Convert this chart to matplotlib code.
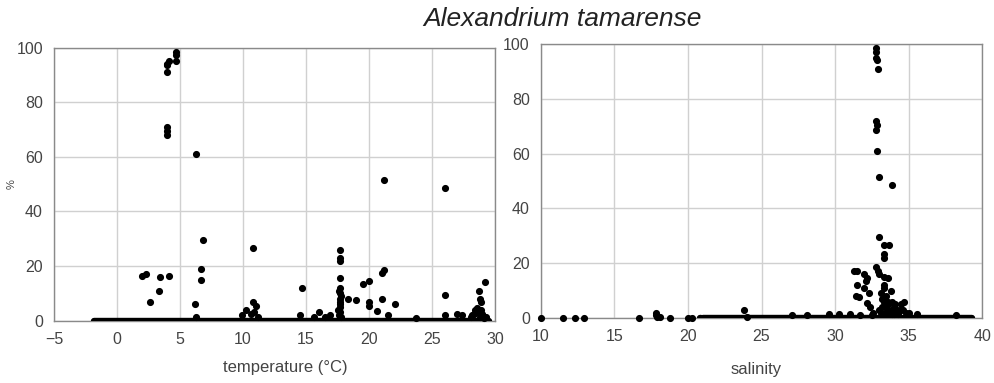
import matplotlib
matplotlib.use('Agg')

import matplotlib.pyplot as plt

# temperature panel: non-zero observations (temperature degC, percent)
temp_x = [4.0, 4.0, 4.1, 4.0, 4.7, 4.7, 4.7,
          4.0, 4.0, 4.0, 6.3,
          6.8, 6.7, 6.7,
          2.0, 2.3, 2.6, 3.3, 3.4, 4.1,
          6.2, 6.3, 10.8, 10.8, 11.0, 10.2, 9.9, 10.6, 11.2, 10.9,
          14.7, 14.5, 15.6, 16.0, 16.5, 16.9,
          17.7, 17.7, 17.7, 17.7, 17.7, 17.7, 17.7, 17.7, 17.7, 17.7, 17.6, 17.8,
          17.6, 17.8, 17.7, 17.5,
          18.3, 19.0, 19.5, 20.0, 20.0, 20.0, 20.6,
          21.0, 21.2, 21.0, 21.2, 22.1, 21.5, 23.7,
          26.0, 26.0, 26.0, 27.0, 27.4,
          28.7, 28.8, 29.2, 28.9, 28.5, 28.4, 28.6, 29.0, 28.2, 28.8, 29.1,
          28.3, 28.6, 28.9, 29.3, 28.1, 28.7, 29.0]
temp_y = [91, 94, 95, 93.5, 97.5, 98.5, 95,
          68, 69.5, 71, 61,
          29.5, 19, 15,
          16.5, 17, 7, 11, 16, 16.5,
          6, 1.5, 26.5, 7, 5.5, 4, 2, 2.5, 1.5, 3,
          12, 2, 1.5, 3, 1.5, 2,
          26, 23, 22, 15.5, 12, 10, 8, 6, 5, 3, 2, 1.5,
          11, 9, 7, 4,
          8, 7.5, 13.5, 14.5, 7, 5.5, 3.5,
          17.5, 18.5, 8, 51.5, 6, 2, 1,
          48.5, 9.5, 2, 2.5, 2,
          11, 8, 14, 7, 3, 4, 4.5, 2.5, 2, 1.5, 1,
          2.5, 3, 4, 1.5, 1.5, 3.5, 2]

# temperature range over which zero values were recorded
temp_zero_from = -1.8
temp_zero_to = 29.5

# salinity panel: observations (salinity, percent)
sal_x = [32.8, 32.8, 32.8, 32.85, 32.9,
         32.8, 32.85, 32.8, 32.85, 33.0, 33.9,
         33.0, 33.3, 33.7, 33.3, 33.3,
         31.3, 31.5, 32.0, 32.2, 32.1, 32.8, 32.9, 33.0, 33.3, 33.6,
         31.5, 32.0, 32.3, 31.4, 31.6, 32.2, 32.4, 33.3, 33.3, 33.8, 33.5,
         34.5, 34.7, 34.0, 33.2, 33.6, 34.2, 33.1, 33.4, 34.3, 34.8,
         33.0, 33.5, 33.9, 34.4, 35.6, 31.0, 30.3, 29.6, 27.1, 28.1, 38.2,
         33.2, 33.4, 33.6, 33.8, 34.0, 33.3, 33.5, 33.7, 34.1, 34.6, 35.0,
         33.1, 33.9, 34.3, 32.6, 32.5, 31.7,
         10.0, 11.5, 12.3, 12.9, 16.7, 17.8, 17.8, 17.9, 18.1, 18.8,
         23.8, 24.0, 20.0, 20.3]
sal_y = [97, 98.5, 95, 94, 91,
         68.5, 70.5, 72, 61, 51.5, 48.5,
         29.5, 26.5, 26.5, 23.5, 22,
         17, 17, 16, 14.5, 13.5, 18.5, 17, 16, 15, 14.5,
         12, 11, 9, 8, 7.5, 5.5, 4, 11, 12, 10, 8,
         5, 6, 4, 7, 6, 3, 9, 5, 2.5, 2,
         3, 2, 1.5, 3, 1.5, 1.5, 1.5, 1.5, 1, 1, 1,
         4, 2, 5, 3, 1.5, 6, 4, 2, 5, 3, 2,
         2, 6, 1.5, 2, 1, 1,
         0, 0, 0, 0, 0, 2, 1, 0.5, 0.5, 0,
         3, 0.5, 0, 0]

# salinity ranges over which zero values were recorded
sal_zero_from = [20.8, 21.0]
sal_zero_to = [20.9, 39.3]

GRID = '#d0d0d0'
FRAME = '#8a8a8a'
TEXT = '#444444'

plt.rcParams['font.family'] = ['Liberation Sans', 'DejaVu Sans']

fig = plt.figure(figsize=(9.95, 3.83), dpi=100)
ax1 = fig.add_axes([0.0543, 0.1627, 0.4432, 0.7128])
ax2 = fig.add_axes([0.5437, 0.1697, 0.4433, 0.7153])


def style(ax, xmin, xmax):
    ax.set_xlim(xmin, xmax)
    ax.set_ylim(0, 100)
    ax.set_yticks([0, 20, 40, 60, 80, 100])
    ax.grid(color=GRID, linewidth=1)
    ax.set_axisbelow(True)
    ax.tick_params(length=0, labelsize=11.5, labelcolor=TEXT, pad=8)
    for sp in ax.spines.values():
        sp.set_color(FRAME)
        sp.set_linewidth(1)


style(ax1, -5, 30)
ax1.set_xticks([-5, 0, 5, 10, 15, 20, 25, 30])
ax1.hlines(0, temp_zero_from, temp_zero_to, color='black', linewidth=4.6,
           capstyle='round', zorder=3)
ax1.scatter(temp_x, temp_y, s=17, color='black', zorder=4, clip_on=False)
ax1.set_xlabel('temperature (°C)', fontsize=12, color=TEXT)
ax1.xaxis.set_label_coords(0.524, -0.145)
ax1.set_ylabel('%', fontsize=8, color=TEXT)
ax1.yaxis.set_label_coords(-0.085, 0.5)

style(ax2, 10, 40)
ax2.set_xticks([10, 15, 20, 25, 30, 35, 40])
ax2.hlines([0] * len(sal_zero_from), sal_zero_from, sal_zero_to, color='black',
           linewidth=4.6, capstyle='round', zorder=3)
ax2.scatter(sal_x, sal_y, s=17, color='black', zorder=4, clip_on=False)
ax2.set_xlabel('salinity', fontsize=12, color=TEXT)
ax2.xaxis.set_label_coords(0.488, -0.16)

fig.text(0.565, 0.95, 'Alexandrium tamarense', fontsize=19, style='italic',
         color='#222222', ha='center', va='center')

plt.savefig('out.png', dpi=100)
plt.close()
